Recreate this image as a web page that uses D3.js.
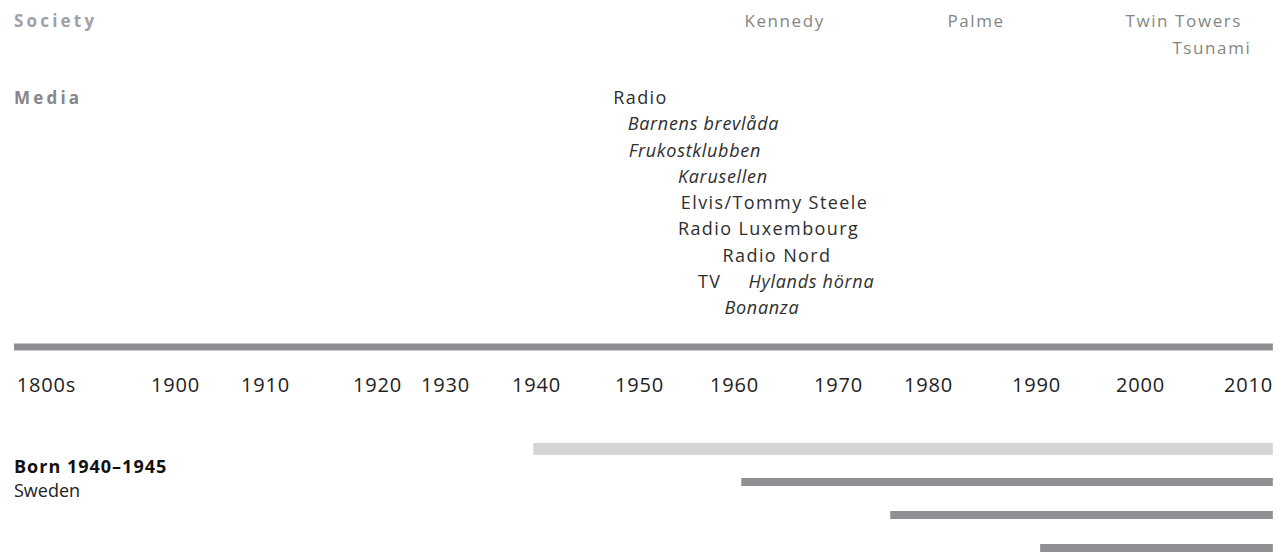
<!DOCTYPE html>
<html>
<head>
<meta charset="utf-8">
<script src="https://cdn.jsdelivr.net/npm/d3@7"></script>
<style>
  body { margin: 0; background: #fff; }
  svg  { display: block; font-family: "Open Sans", sans-serif; }
</style>
</head>
<body>
<script>
// timeline ticks
const tickYears  = [1800, 1900, 1910, 1920, 1930, 1940, 1950, 1960, 1970, 1980, 1990, 2000, 2010];
const tickLabels = ['1800s', '1900', '1910', '1920', '1930', '1940', '1950', '1960', '1970', '1980', '1990', '2000', '2010'];

const societyLabels = ['Kennedy', 'Palme', 'Twin Towers', 'Tsunami'];
const societyYears  = [1961, 1981.8, 1998.6, 2003];
const societyRows   = [0, 0, 0, 1];

// media events
const mediaLabels = ['Radio', 'Barnens brevlåda', 'Frukostklubben', 'Karusellen', 'Elvis/Tommy Steele',
                     'Radio Luxembourg', 'Radio Nord', 'TV', 'Hylands hörna', 'Bonanza'];
const mediaYears  = [1947.5, 1948.9, 1949, 1954.1, 1954.4, 1954.1, 1958.8, 1956.2, 1961.4, 1959];
const mediaRows   = [0, 1, 2, 3, 4, 5, 6, 7, 7, 8];
const mediaIsShow = [false, true, true, true, false, false, false, false, true, true];

// cohort periods
const cohortLabel  = 'Born 1940–1945';
const cohortPlace  = 'Sweden';
const periodStarts = [1939.7, 1960.7, 1975.8, 1990.4];
const periodEnd    = 2012.3;

const width  = 1276,
      height = 556,
      axisY  = 347,
      // the timeline is not linear: each tick sits at its own stop
      tickStops = [46, 175, 265, 377, 445, 536, 639, 734, 838, 928, 1036, 1140, 1248];

const x = d3.scaleLinear().domain(tickYears).range(tickStops);

const svg = d3.select('body').append('svg')
  .attr('width', width)
  .attr('height', height);

// section headings
const headings = svg.append('g')
  .attr('font-weight', 700)
  .attr('font-size', 17)
  .attr('letter-spacing', 3.2);

headings.append('text').attr('x', 14).attr('y', 27).attr('fill', '#a0a0a6').text('Society');
headings.append('text').attr('x', 14).attr('y', 104).attr('fill', '#86868c').text('Media');

// society
const societyY = d3.scaleLinear().domain([0, 1]).range([27, 54]);

svg.append('g')
  .attr('font-size', 17)
  .attr('letter-spacing', 1.6)
  .attr('fill', '#858585')
  .selectAll('text')
  .data(societyLabels)
  .join('text')
    .attr('x', (d, i) => x(societyYears[i]))
    .attr('y', (d, i) => societyY(societyRows[i]))
    .text(d => d);

// media
const mediaY = d3.scaleLinear().domain([0, 8]).range([104, 314]);

svg.append('g')
  .attr('font-size', 18)
  .attr('fill', '#2e2e2e')
  .selectAll('text')
  .data(mediaLabels)
  .join('text')
    .attr('x', (d, i) => x(mediaYears[i]))
    .attr('y', (d, i) => mediaY(mediaRows[i]))
    .attr('font-style', (d, i) => mediaIsShow[i] ? 'italic' : 'normal')
    .attr('letter-spacing', (d, i) => mediaIsShow[i] ? 0.7 : 1.4)
    .text(d => d);

// main time line
svg.append('line')
  .attr('x1', x(tickYears[0]) - 32)
  .attr('x2', x(periodEnd))
  .attr('y1', axisY)
  .attr('y2', axisY)
  .attr('stroke', '#8e8e92')
  .attr('stroke-width', 7);

const axis = d3.axisBottom(x)
  .tickValues(tickYears)
  .tickFormat((d, i) => tickLabels[i])
  .tickSize(0)
  .tickPadding(31);

svg.append('g')
  .attr('transform', `translate(0,${axisY})`)
  .call(axis)
  .call(g => g.select('.domain').remove())
  .call(g => g.selectAll('text')
    .attr('font-family', '"Open Sans", sans-serif')
    .attr('font-size', 20)
    .attr('letter-spacing', 0.8)
    .attr('fill', '#222'));

// cohort
svg.append('text')
  .attr('x', 14).attr('y', 473)
  .attr('font-size', 18)
  .attr('font-weight', 700)
  .attr('letter-spacing', 1)
  .attr('fill', '#111')
  .text(cohortLabel);

svg.append('text')
  .attr('x', 14).attr('y', 497)
  .attr('font-size', 18)
  .attr('fill', '#222')
  .text(cohortPlace);

const barY = d3.scalePoint().domain(d3.range(periodStarts.length)).range([449, 548]);

svg.append('g')
  .selectAll('line')
  .data(periodStarts)
  .join('line')
    .attr('x1', d => x(d))
    .attr('x2', x(periodEnd))
    .attr('y1', (d, i) => barY(i))
    .attr('y2', (d, i) => barY(i))
    .attr('stroke', (d, i) => i === 0 ? '#d5d5d7' : '#909094')
    .attr('stroke-width', (d, i) => i === 0 ? 12 : 8);
</script>
</body>
</html>
